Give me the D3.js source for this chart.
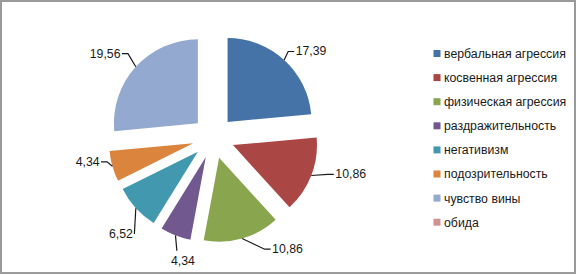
<!DOCTYPE html>
<html>
<head>
<meta charset="utf-8">
<script src="https://cdn.jsdelivr.net/npm/d3@7"></script>
<style>
  body { margin: 0; background: #fff; }
  text { font-family: "Liberation Sans", Arial, sans-serif; fill: #1a1a1a; }
</style>
</head>
<body>
<div id="chart"></div>
<script>
// data
const categories = ["вербальная агрессия", "косвенная агрессия", "физическая агрессия",
    "раздражительность", "негативизм", "подозрительность", "чувство вины", "обида"];
const values = [17.39, 10.86, 10.86, 4.34, 6.52, 4.34, 19.56, 0];
const valueLabels = ["17,39", "10,86", "10,86", "4,34", "6,52", "4,34", "19,56", ""];
const colors = ["#4572A7", "#AA4643", "#89A54E", "#71588F", "#4198AF", "#DB843D", "#93A9CF", "#D19392"];

// label layout: [turn from bisector in degrees, distance from slice apex], text side
const labelTurn = [1, -5, -13.5, -4, -10, 4.5, 0.2, 0];
const labelReach = [97, 105, 105, 98, 104, 94, 103, 0];
const labelSide = ["right", "right", "right", "below", "left", "left", "left", ""];

const width = 578;
const height = 276;
const cx = 213.4, cy = 137.5;
const radius = 84;
const explode = radius * 0.25;

const svg = d3.select("#chart").append("svg")
    .attr("width", width)
    .attr("height", height);

// frame
svg.append("rect")
    .attr("x", 1).attr("y", 1)
    .attr("width", 574).attr("height", 272)
    .attr("fill", "#fff")
    .attr("stroke", "#9a9a9a")
    .attr("stroke-width", 2);

const data = categories.map((c, i) => ({ label: c, value: values[i], text: valueLabels[i], i: i }));

const pie = d3.pie().sort(null).value(d => d.value);
const arcs = pie(data).filter(d => d.data.value > 0);

const arcGen = d3.arc().innerRadius(0).outerRadius(radius);

// polar helper, angle measured clockwise from 12 o'clock
const polar = (a, r) => [Math.sin(a) * r, -Math.cos(a) * r];

const g = svg.append("g").attr("transform", `translate(${cx},${cy})`);

const slices = g.selectAll(".slice")
    .data(arcs)
    .enter().append("g")
    .attr("class", "slice")
    .attr("transform", d => {
        const mid = (d.startAngle + d.endAngle) / 2;
        const p = polar(mid, explode);
        return `translate(${p[0]},${p[1]})`;
    });

slices.append("path")
    .attr("d", arcGen)
    .attr("fill", d => colors[d.data.i]);

// leader lines + value labels
slices.each(function (d) {
    const i = d.data.i;
    const mid = (d.startAngle + d.endAngle) / 2;
    const edge = polar(mid, radius);
    const la = mid + labelTurn[i] * Math.PI / 180;
    const anchor = polar(la, labelReach[i]);
    const side = labelSide[i];
    const stub = 6;
    let pts = [edge];
    if (side !== "below" && Math.abs(edge[0] - anchor[0]) > stub) {
        pts.push([anchor[0] + (side === "right" ? -stub : stub), anchor[1]]);
    }
    pts.push(anchor);

    const sel = d3.select(this);
    sel.append("polyline")
        .attr("points", pts.map(p => p.join(",")).join(" "))
        .attr("fill", "none")
        .attr("stroke", "#1a1a1a")
        .attr("stroke-width", 1.2);

    const t = sel.append("text")
        .attr("font-size", 12.3)
        .text(d.data.text);
    if (side === "right") {
        t.attr("x", anchor[0] + 1.5).attr("y", anchor[1] + 4).attr("text-anchor", "start");
    } else if (side === "left") {
        t.attr("x", anchor[0] - 1.5).attr("y", anchor[1] + 4).attr("text-anchor", "end");
    } else {
        t.attr("x", anchor[0] + 6).attr("y", anchor[1] + 14).attr("text-anchor", "middle");
    }
});

// legend
const legend = svg.append("g")
    .attr("transform", "translate(433.5,53.5)");

const rows = legend.selectAll(".legend")
    .data(data)
    .enter().append("g")
    .attr("class", "legend")
    .attr("transform", (d, i) => `translate(0,${i * 24.1})`);

rows.append("rect")
    .attr("x", 0).attr("y", -3.5)
    .attr("width", 7).attr("height", 7)
    .attr("fill", d => colors[d.i]);

rows.append("text")
    .attr("x", 10.5)
    .attr("y", 4.4)
    .attr("font-size", 12.3)
    .text(d => d.label);
</script>
</body>
</html>
